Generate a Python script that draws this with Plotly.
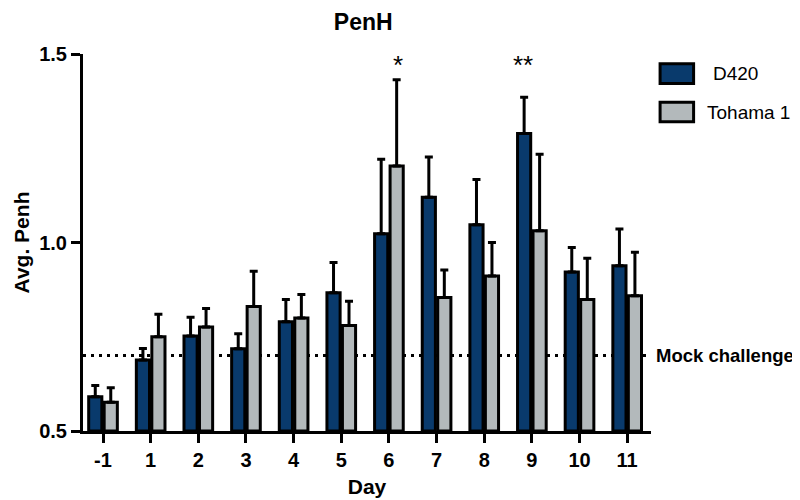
import plotly.graph_objects as go

days = ["-1", "1", "2", "3", "4", "5", "6", "7", "8", "9", "10", "11"]
d420_mean = [0.591, 0.688, 0.752, 0.718, 0.790, 0.867, 1.023, 1.120, 1.047, 1.289, 0.922, 0.938]
d420_err = [0.030, 0.031, 0.050, 0.040, 0.059, 0.080, 0.198, 0.107, 0.120, 0.096, 0.065, 0.098]
toh_mean = [0.576, 0.750, 0.776, 0.830, 0.800, 0.780, 1.203, 0.854, 0.911, 1.031, 0.849, 0.859]
toh_err = [0.039, 0.060, 0.049, 0.094, 0.062, 0.064, 0.229, 0.073, 0.089, 0.203, 0.109, 0.115]
mock_level = 0.70
series_names = ["D420", "Tohama 1"]
colors = ["#093a6c", "#b3b9bb"]
sig_marks = [("6", "Tohama 1", "*"), ("9", "D420", "**")]

FONT = "Arial, Liberation Sans, Helvetica, sans-serif"

fig = go.Figure()
for name, mean, err, col in [(series_names[0], d420_mean, d420_err, colors[0]),
                             (series_names[1], toh_mean, toh_err, colors[1])]:
    fig.add_trace(go.Bar(
        x=days, y=[m - 0.5 for m in mean], base=0.5, name=name,
        marker=dict(color=col, line=dict(color="black", width=3)),
        error_y=dict(type="data", array=err, arrayminus=[0] * len(err), symmetric=False,
                     color="black", thickness=3, width=4),
        showlegend=False,
    ))

fig.update_layout(
    width=800, height=500,
    margin=dict(l=68, r=157, t=46, b=71),
    paper_bgcolor="white", plot_bgcolor="white",
    barmode="group", bargap=0.35, bargroupgap=0.15,
    font=dict(family=FONT, color="black"),
    title=dict(text="<b>PenH</b>", x=0.444, xanchor="center", y=0.972, yanchor="middle",
               font=dict(size=23, family=FONT, color="black")),
)
fig.update_xaxes(
    type="category", range=[-0.42, 11.5],
    showline=True, linecolor="black", linewidth=3,
    ticks="outside", ticklen=9, tickwidth=3, tickcolor="black",
    tickfont=dict(size=20, family=FONT, weight="bold"),
    title=dict(text="<b>Day</b>", font=dict(size=21, family=FONT), standoff=10),
    showgrid=False, zeroline=False,
)
fig.update_yaxes(
    range=[0.5, 1.5], tickvals=[0.5, 1.0, 1.5], ticktext=["0.5", "1.0", "1.5"],
    showline=True, linecolor="black", linewidth=3,
    ticks="outside", ticklen=9, tickwidth=3, tickcolor="black",
    tickfont=dict(size=20, family=FONT, weight="bold"),
    title=dict(text="<b>Avg. Penh</b>", font=dict(size=21, family=FONT), standoff=4),
    showgrid=False, zeroline=False,
)

# mock challenge reference line
fig.add_shape(type="line", xref="paper", yref="y", x0=0, x1=1, y0=mock_level, y1=mock_level,
              line=dict(color="black", width=3, dash="3px,5px"), layer="below")
fig.add_annotation(xref="paper", yref="y", x=1.0, y=mock_level, xanchor="left", yanchor="middle",
                   xshift=3, text="<b>Mock challenge</b>", showarrow=False,
                   font=dict(size=18.5, family=FONT, color="black"))

# significance marks
idx = {n: i for i, n in enumerate(series_names)}
for day, ser, txt in sig_marks:
    fig.add_annotation(x=day, y=1.47, xref="x", yref="y", text=txt, showarrow=False,
                       xshift=(-9 if idx[ser] == 0 else 9), yanchor="middle",
                       font=dict(size=26, family=FONT, color="black"))

# legend drawn manually
leg_y = [0.948, 0.846]
for i, (name, col) in enumerate(zip(series_names, colors)):
    fig.add_shape(type="rect", xref="paper", yref="paper",
                  x0=1.016, x1=1.075, y0=leg_y[i] - 0.026, y1=leg_y[i] + 0.026,
                  fillcolor=col, line=dict(color="black", width=3))
    fig.add_annotation(xref="paper", yref="paper", x=1.095 if i == 1 else 1.105, y=leg_y[i],
                       xanchor="left", yanchor="middle", text=name, showarrow=False,
                       font=dict(size=19, family=FONT, color="black"))

fig.write_html("out.html")
